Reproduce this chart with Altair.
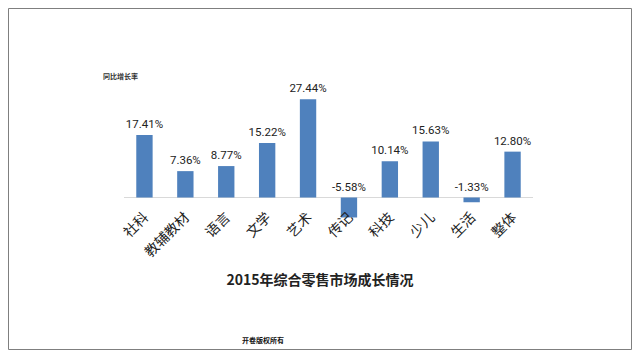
import altair as alt
import pandas as pd

categories = ["社科", "教辅教材", "语言", "文学", "艺术", "传记", "科技", "少儿", "生活", "整体"]
values = [17.41, 7.36, 8.77, 15.22, 27.44, -5.58, 10.14, 15.63, -1.33, 12.80]
labels = ["17.41%", "7.36%", "8.77%", "15.22%", "27.44%", "-5.58%", "10.14%", "15.63%", "-1.33%", "12.80%"]

title_text = "2015年综合零售市场成长情况"
y_label = "同比增长率"
footer_text = "开卷版权所有"

df = pd.DataFrame({"cat": categories, "v": values, "lab": labels})
df["lv"] = df["v"].clip(lower=0)

W, H = 409, 129
CJK = "Noto Sans CJK SC"

xscale = alt.Scale(domain=categories, paddingInner=0.6, paddingOuter=0.3)
yscale = alt.Scale(domain=[-6, 30], nice=False, zero=False)
zero_px = 30 * H / 36

base = alt.Chart(df)
X = alt.X("cat:N", scale=xscale, axis=None, sort=categories)

bars = base.mark_bar(color="#4F81BD").encode(
    x=X,
    y=alt.Y("v:Q", scale=yscale, axis=None),
    y2=alt.datum(0),
)

zero_line = alt.Chart(pd.DataFrame({"z": [0]})).mark_rule(color="#d9d9d9", strokeWidth=1).encode(
    y=alt.Y("z:Q", scale=yscale, axis=None),
    x=alt.value(0), x2=alt.value(W),
)

val_text = base.mark_text(font="Roboto", fontSize=11.5, color="#222222", baseline="middle", dy=-10).encode(
    x=X,
    y=alt.Y("lv:Q", scale=yscale, axis=None),
    text="lab:N",
)

cat_text = base.mark_text(font=CJK, fontSize=14, color="#222222", align="right", baseline="middle", angle=315).encode(
    x=alt.X("cat:N", scale=xscale, axis=None, sort=categories, bandPosition=0.62),
    y=alt.value(zero_px + 18),
    text="cat:N",
)

one = pd.DataFrame({"a": [1]})
ylab = alt.Chart(one).mark_text(font=CJK, fontSize=7, fontWeight="bold", color="#333333", align="left", baseline="middle").encode(
    x=alt.value(-21), y=alt.value(-13), text=alt.value(y_label)
)
title = alt.Chart(one).mark_text(font=CJK, fontSize=14, fontWeight="bold", color="#222222", align="center", baseline="middle").encode(
    x=alt.value(196), y=alt.value(191), text=alt.value(title_text)
)
footer = alt.Chart(one).mark_text(font=CJK, fontSize=7, fontWeight="bold", color="#111111", align="center", baseline="middle").encode(
    x=alt.value(139), y=alt.value(251), text=alt.value(footer_text)
)
border = alt.Chart(one).mark_rect(fill=None, stroke="#7f7f7f", strokeWidth=1).encode(
    x=alt.value(-115.5), x2=alt.value(507.5), y=alt.value(-81.5), y2=alt.value(259.5)
)

chart = alt.layer(border, zero_line, bars, val_text, cat_text, ylab, title, footer).properties(
    width=W, height=H,
    autosize=alt.AutoSizeParams(type="none"),
    padding={"left": 116, "top": 82, "right": 99, "bottom": 131},
    background="white",
).configure_view(stroke=None)

chart.save("out.html", embed_options={"renderer": "svg", "actions": False})
